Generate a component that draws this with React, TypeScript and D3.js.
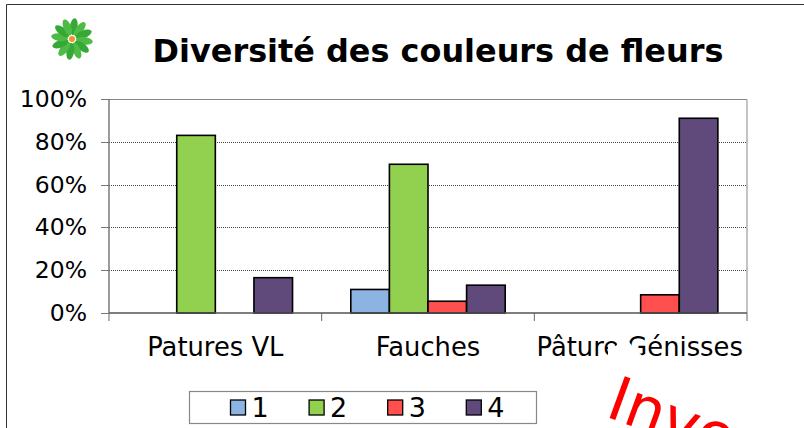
import React from "react";
import * as d3 from "d3";

const categories = ["Patures VL", "Fauches", "Pâture Génisses"];
const seriesNames = ["1", "2", "3", "4"];
const colors = ["#8DB3E2", "#92D050", "#FF4F4F", "#604A7B"];
const s1 = [0, 11, 0];
const s2 = [83, 69.5, 0];
const s3 = [0, 5.5, 8.5];
const s4 = [16.5, 13, 91];
const series = [s1, s2, s3, s4];
const yTicks = [0, 20, 40, 60, 80, 100];
const petals = d3.range(0, 360, 30);

const W = 804, H = 428;
const left = 109, right = 747, top = 99, bottom = 313;

export default function App() {
  const y = d3.scaleLinear().domain([0, 100]).range([bottom, top]);
  const x0 = d3.scaleBand<string>().domain(categories).range([left, right]);
  const gw = x0.bandwidth();
  const bw = 38.6;
  const x1 = d3.scaleLinear().domain([0, 4]).range([-2 * bw, 2 * bw]);
  const font = "'DejaVu Sans', Verdana, sans-serif";
  return (
    <svg width={W} height={H} style={{ position: "absolute", left: 0, top: 0, background: "#fff" }} fontFamily={font}>
      <path d={`M6.5 ${H} V4.5 H${W}`} fill="none" stroke="#333" strokeWidth={1} />
      <g transform="translate(72 39)">
        {petals.map((a) => (
          <ellipse key={a} cx={0} cy={-12.5} rx={3.8} ry={8.5} fill={a % 60 === 0 ? "#35A835" : "#4DBB45"} transform={`rotate(${a + 8})`} />
        ))}
        <circle r={3} fill="#F0952A" />
      </g>
      <text x={438} y={62} textAnchor="middle" fontSize={31.9} fontWeight="bold" fill="#000">Diversité des couleurs de fleurs</text>

      {yTicks.filter((t) => t > 0 && t < 100).map((t) => (
        <line key={t} x1={left} x2={right} y1={Math.round(y(t)) + 0.5} y2={Math.round(y(t)) + 0.5} stroke="#444" strokeWidth={1} strokeDasharray="1 1" />
      ))}
      <path d={`M${left} ${top + 0.5} H${right} V${bottom}`} fill="none" stroke="#888" strokeWidth={1} />

      {series.map((vals, si) => vals.map((v, ci) => v > 0 ? (
        <rect key={`${si}-${ci}`} x={x0(categories[ci])! + gw / 2 + x1(si)} y={y(v)} width={bw} height={bottom - y(v)} fill={colors[si]} stroke="#000" strokeWidth={1.6} />
      ) : null))}

      <line x1={left} x2={right} y1={bottom} y2={bottom} stroke="#555" strokeWidth={1.3} />
      <line x1={left} x2={left} y1={top} y2={bottom} stroke="#666" strokeWidth={1.3} />
      {yTicks.map((t) => (
        <g key={t}>
          <line x1={left - 8} x2={left} y1={Math.round(y(t)) + 0.5} y2={Math.round(y(t)) + 0.5} stroke="#777" strokeWidth={1} />
          <text x={87} y={y(t) + 8} textAnchor="end" fontSize={23.5} fill="#000">{t}%</text>
        </g>
      ))}
      {d3.range(4).map((i) => {
        const tx = left + (i * (right - left)) / 3;
        return <line key={i} x1={tx} x2={tx} y1={bottom} y2={bottom + 8} stroke="#666" strokeWidth={1} />;
      })}
      {categories.map((c) => (
        <text key={c} x={x0(c)! + gw / 2 + (c === "Pâture Génisses" ? -1 : 0)} y={356} textAnchor="middle" fontSize={25.8} fill="#000">{c}</text>
      ))}
      <path d="M608 346 L616 346 L620 340 L628 340 L634 349 L644 357 L640 362 L608 362 Z" fill="#fff" />

      <rect x={189.5} y={391.5} width={347} height={32} fill="#fff" stroke="#888" strokeWidth={1.2} />
      {seriesNames.map((n, i) => {
        const lx = 230.5 + i * 78.6;
        return (
          <g key={n}>
            <rect x={lx} y={400} width={15} height={15} fill={colors[i]} stroke="#000" strokeWidth={1.3} />
            <text x={lx + 21} y={417} fontSize={27} fill="#000">{n}</text>
          </g>
        );
      })}

      <text x={604} y={416} fontSize={61} fill="#FF0000" transform="rotate(20 604 416)">Inve</text>
    </svg>
  );
}
